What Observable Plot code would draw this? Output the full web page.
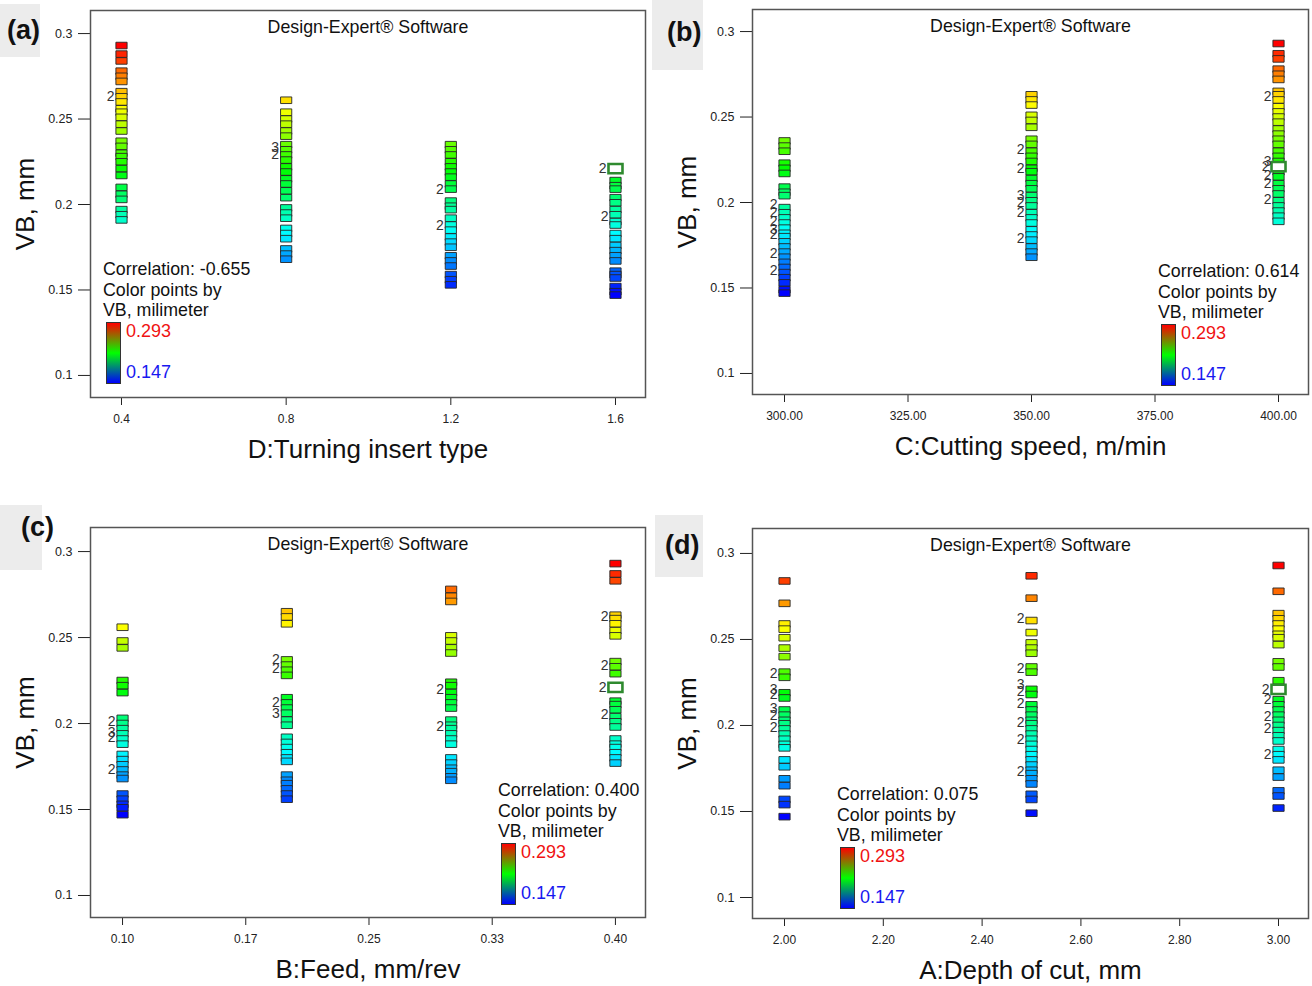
<!DOCTYPE html>
<html>
<head>
<meta charset="utf-8">
<script src="https://cdn.jsdelivr.net/npm/d3@7"></script>
<script src="https://cdn.jsdelivr.net/npm/@observablehq/plot@0.6"></script>
<style>
  body { margin: 0; background: #fff; font-family: Arial, "Liberation Sans", sans-serif; }
  #fig { position: relative; width: 1312px; height: 986px; overflow: hidden; background: #fff; }
  .panel { position: absolute; }
  .tagbox { position: absolute; background: #ececec; }
  .tag { position: absolute; font-weight: bold; font-size: 27px; color: #111; line-height: 1; transform: translateY(-50%); }
  .note { position: absolute; font-size: 17.8px; color: #111; white-space: nowrap; line-height: 1; transform: translateY(-50%); }
  .ramp { position: absolute; width: 13px; height: 60px; border: 1px solid #333;
          background: linear-gradient(to bottom, #ff0000, #00ff00, #0000ff); }
</style>
</head>
<body>
<div id="fig"></div>
<script>
// ---- Tool wear VB (mm) of each run, grouped by factor level ----

// D: turning insert type
const insertLevels = [0.4, 0.8, 1.2, 1.6];
const vbInsert04 = [0.293, 0.288, 0.284, 0.278, 0.275, 0.272, 0.266, 0.263, 0.260, 0.256, 0.254, 0.251, 0.247, 0.243, 0.237, 0.234, 0.230, 0.228, 0.225, 0.221, 0.217, 0.210, 0.206, 0.203, 0.197, 0.194, 0.191];
const vbInsert08 = [0.261, 0.254, 0.250, 0.247, 0.243, 0.240, 0.235, 0.232, 0.229, 0.226, 0.222, 0.219, 0.215, 0.212, 0.208, 0.204, 0.198, 0.195, 0.192, 0.186, 0.183, 0.180, 0.174, 0.171, 0.168];
const vbInsert12 = [0.235, 0.232, 0.229, 0.225, 0.222, 0.219, 0.216, 0.212, 0.209, 0.202, 0.199, 0.197, 0.192, 0.188, 0.185, 0.181, 0.178, 0.175, 0.170, 0.167, 0.164, 0.159, 0.156, 0.153];
const vbInsert16 = [0.214, 0.211, 0.209, 0.204, 0.201, 0.197, 0.194, 0.190, 0.188, 0.183, 0.180, 0.176, 0.173, 0.170, 0.167, 0.161, 0.159, 0.157, 0.152, 0.149, 0.147];
const repeatsInsert = [[0.4, 0.263, "2"], [0.8, 0.2335, "3"], [0.8, 0.2295, "2"], [1.2, 0.209, "2"], [1.2, 0.188, "2"], [1.6, 0.193, "2"]];
const centerInsert = [1.6, 0.221, "2"];

// C: cutting speed, m/min
const speedLevels = [300, 350, 400];
const speedTicks = [300, 325, 350, 375, 400];
const vbSpeed300 = [0.236, 0.233, 0.230, 0.223, 0.220, 0.217, 0.209, 0.206, 0.204, 0.197, 0.194, 0.191, 0.188, 0.185, 0.182, 0.180, 0.177, 0.174, 0.171, 0.168, 0.165, 0.162, 0.159, 0.156, 0.153, 0.149, 0.147];
const vbSpeed350 = [0.263, 0.260, 0.257, 0.251, 0.248, 0.244, 0.237, 0.234, 0.230, 0.227, 0.224, 0.220, 0.218, 0.214, 0.211, 0.208, 0.204, 0.201, 0.198, 0.194, 0.191, 0.188, 0.184, 0.181, 0.178, 0.174, 0.171, 0.168];
const vbSpeed400 = [0.293, 0.287, 0.284, 0.278, 0.275, 0.272, 0.265, 0.263, 0.260, 0.256, 0.253, 0.250, 0.247, 0.243, 0.240, 0.237, 0.234, 0.230, 0.227, 0.224, 0.218, 0.215, 0.211, 0.208, 0.205, 0.201, 0.198, 0.195, 0.192, 0.189];
const repeatsSpeed = [[300, 0.199, "2"], [300, 0.194, "2"], [300, 0.189, "2"], [300, 0.184, "3"], [300, 0.181, "2"], [300, 0.170, "2"], [300, 0.160, "2"],
  [350, 0.231, "2"], [350, 0.220, "2"], [350, 0.204, "3"], [350, 0.200, "2"], [350, 0.194, "2"], [350, 0.179, "2"],
  [400, 0.262, "2"], [400, 0.224, "3"], [400, 0.216, "2"], [400, 0.211, "2"], [400, 0.202, "2"]];
const centerSpeed = [400, 0.221, "2"];

// B: feed, mm/rev
const feedLevels = [0.1, 0.2, 0.3, 0.4];
const feedTicks = [0.1, 0.175, 0.25, 0.325, 0.4];
const feedTickLabels = ["0.10", "0.17", "0.25", "0.33", "0.40"];
const vbFeed010 = [0.256, 0.248, 0.244, 0.225, 0.222, 0.218, 0.203, 0.200, 0.197, 0.194, 0.191, 0.188, 0.182, 0.179, 0.176, 0.173, 0.170, 0.168, 0.159, 0.156, 0.153, 0.151, 0.147];
const vbFeed020 = [0.265, 0.262, 0.258, 0.237, 0.234, 0.231, 0.228, 0.215, 0.212, 0.209, 0.206, 0.202, 0.199, 0.192, 0.189, 0.186, 0.183, 0.180, 0.178, 0.170, 0.167, 0.165, 0.162, 0.159, 0.156];
const vbFeed030 = [0.278, 0.274, 0.271, 0.251, 0.248, 0.244, 0.241, 0.224, 0.222, 0.218, 0.215, 0.212, 0.209, 0.202, 0.199, 0.197, 0.194, 0.191, 0.188, 0.180, 0.177, 0.174, 0.172, 0.169, 0.167];
const vbFeed040 = [0.293, 0.287, 0.283, 0.263, 0.261, 0.258, 0.254, 0.251, 0.236, 0.233, 0.229, 0.213, 0.211, 0.208, 0.204, 0.201, 0.198, 0.191, 0.188, 0.186, 0.183, 0.180, 0.177];
const repeatsFeed = [[0.1, 0.201, "2"], [0.1, 0.195, "3"], [0.1, 0.192, "2"], [0.1, 0.173, "2"],
  [0.2, 0.237, "2"], [0.2, 0.232, "2"], [0.2, 0.212, "2"], [0.2, 0.206, "3"],
  [0.3, 0.220, "2"], [0.3, 0.198, "2"],
  [0.4, 0.262, "2"], [0.4, 0.234, "2"], [0.4, 0.205, "2"]];
const centerFeed = [0.4, 0.221, "2"];

// A: depth of cut, mm
const depthLevels = [2.0, 2.5, 3.0];
const depthTicks = [2.0, 2.2, 2.4, 2.6, 2.8, 3.0];
const vbDepth20 = [0.284, 0.271, 0.259, 0.256, 0.251, 0.245, 0.240, 0.231, 0.228, 0.219, 0.216, 0.209, 0.206, 0.203, 0.201, 0.198, 0.195, 0.192, 0.189, 0.187, 0.180, 0.176, 0.169, 0.165, 0.157, 0.154, 0.147];
const vbDepth25 = [0.287, 0.274, 0.261, 0.254, 0.248, 0.245, 0.242, 0.234, 0.231, 0.221, 0.218, 0.212, 0.209, 0.206, 0.203, 0.201, 0.198, 0.195, 0.192, 0.189, 0.186, 0.183, 0.180, 0.177, 0.174, 0.172, 0.169, 0.166, 0.160, 0.157, 0.149];
const vbDepth30 = [0.293, 0.278, 0.265, 0.262, 0.259, 0.256, 0.253, 0.251, 0.247, 0.237, 0.234, 0.226, 0.215, 0.212, 0.209, 0.206, 0.203, 0.200, 0.197, 0.194, 0.191, 0.186, 0.183, 0.180, 0.174, 0.170, 0.162, 0.159, 0.152];
const repeatsDepth = [[2.0, 0.230, "2"], [2.0, 0.221, "3"], [2.0, 0.218, "2"], [2.0, 0.210, "3"], [2.0, 0.206, "2"], [2.0, 0.199, "2"],
  [2.5, 0.262, "2"], [2.5, 0.233, "2"], [2.5, 0.224, "3"], [2.5, 0.220, "2"], [2.5, 0.213, "2"], [2.5, 0.202, "2"], [2.5, 0.192, "2"], [2.5, 0.173, "2"],
  [3.0, 0.215, "2"], [3.0, 0.205, "2"], [3.0, 0.198, "2"], [3.0, 0.183, "2"]];
const centerDepth = [3.0, 0.221, "2"];

// VB axis and colour range
const vbTicks = [0.1, 0.15, 0.2, 0.25, 0.3];
const vbMin = 0.147, vbMax = 0.293;
const correlations = ["-0.655", "0.614", "0.400", "0.075"];

// ---- drawing ----
const FONT = 'Arial, "Liberation Sans", sans-serif';
const vbColors = d3.piecewise(d3.interpolateRgb, ["#0000ff", "#00ffff", "#00ff00", "#ffff00", "#ff0000"]);
const runBox = { draw(ctx) { ctx.rect(-5.6, -3.3, 11.2, 6.6); } };
const centerBox = { draw(ctx) { ctx.rect(-7, -4.6, 14, 9.2); } };
const fmt2 = d3.format(".2f");

const panels = [
  { tag: "(a)", left: 0, top: 0, m: [10, 11, 96, 90], xDomain: [0.3247, 1.6729], yDomain: [0.0871, 0.3135],
    levels: insertLevels, series: [vbInsert04, vbInsert08, vbInsert12, vbInsert16],
    xTicks: insertLevels, xFormat: d3.format("~g"), xLabel: "D:Turning insert type",
    repeats: repeatsInsert, center: centerInsert, corr: correlations[0], note: [103, 270] },
  { tag: "(b)", left: 656, top: 0, m: [9, 4, 99, 96], xDomain: [293.52, 406.07], yDomain: [0.0877, 0.3129],
    levels: speedLevels, series: [vbSpeed300, vbSpeed350, vbSpeed400],
    xTicks: speedTicks, xFormat: fmt2, xLabel: "C:Cutting speed, m/min",
    repeats: repeatsSpeed, center: centerSpeed, corr: correlations[1], note: [1158, 272] },
  { tag: "(c)", left: 0, top: 493, m: [34, 11, 69, 90], xDomain: [0.0805, 0.4183], yDomain: [0.0872, 0.314],
    levels: feedLevels, series: [vbFeed010, vbFeed020, vbFeed030, vbFeed040],
    xTicks: feedTicks, xFormat: d => feedTickLabels[feedTicks.indexOf(d)], xLabel: "B:Feed, mm/rev",
    repeats: repeatsFeed, center: centerFeed, corr: correlations[2], note: [498, 791] },
  { tag: "(d)", left: 656, top: 493, m: [35, 4, 68, 96], xDomain: [1.9352, 3.0607], yDomain: [0.0878, 0.3145],
    levels: depthLevels, series: [vbDepth20, vbDepth25, vbDepth30],
    xTicks: depthTicks, xFormat: fmt2, xLabel: "A:Depth of cut, mm",
    repeats: repeatsDepth, center: centerDepth, corr: correlations[3], note: [837, 795] }
];

const fig = document.getElementById("fig");

for (const p of panels) {
  const runs = p.levels.flatMap((x, i) => p.series[i].map(vb => ({ x, vb })));
  const reps = p.repeats.map(([x, vb, n]) => ({ x, vb, n }));
  const center = [{ x: p.center[0], vb: p.center[1], n: p.center[2] }];

  const svg = Plot.plot({
    width: 656, height: 493,
    marginTop: p.m[0], marginRight: p.m[1], marginBottom: p.m[2], marginLeft: p.m[3],
    x: { domain: p.xDomain },
    y: { domain: p.yDomain },
    color: { type: "linear", domain: [vbMin, vbMax], interpolate: vbColors },
    style: { fontFamily: FONT, color: "#222", background: "transparent", overflow: "visible" },
    marks: [
      Plot.axisY({ ticks: vbTicks, tickFormat: d3.format("~g"), tickSize: 12, tickPadding: 6, fontSize: 12.5, label: null }),
      Plot.axisX({ ticks: p.xTicks, tickFormat: p.xFormat, tickSize: 8, tickPadding: 9, fontSize: 12, label: null }),
      Plot.frame({ stroke: "#555", strokeWidth: 1.5 }),
      Plot.dot(runs, { x: "x", y: "vb", fill: "vb", symbol: runBox, stroke: "#262626", strokeWidth: 0.9 }),
      Plot.dot(center, { x: "x", y: "vb", symbol: centerBox, fill: "white", stroke: "#2f8a2f", strokeWidth: 2.6 }),
      Plot.text(reps, { x: "x", y: "vb", text: "n", textAnchor: "end", dx: -7, fontSize: 14, fill: "#333" }),
      Plot.text(center, { x: "x", y: "vb", text: "n", textAnchor: "end", dx: -9, fontSize: 14, fill: "#333" }),
      Plot.text(["Design-Expert® Software"], { frameAnchor: "top", lineAnchor: "middle", dy: 17, fontSize: 17.8, fill: "#111" }),
      Plot.text([p.xLabel], { frameAnchor: "bottom", lineAnchor: "middle", textAnchor: "middle", dy: 52, fontSize: 26, fill: "#111" }),
      Plot.text(["VB, mm"], { frameAnchor: "left", textAnchor: "middle", lineAnchor: "middle", rotate: -90, dx: -65, fontSize: 26, fill: "#111" })
    ]
  });

  const holder = document.createElement("div");
  holder.className = "panel";
  holder.style.left = p.left + "px";
  holder.style.top = p.top + "px";
  holder.appendChild(svg);
  fig.appendChild(holder);

  // correlation note with colour ramp
  const [nx, ny] = p.note;
  const lines = ["Correlation: " + p.corr, "Color points by", "VB, milimeter"];
  lines.forEach((t, i) => {
    const d = document.createElement("div");
    d.className = "note";
    d.textContent = t;
    d.style.left = nx + "px";
    d.style.top = (ny + i * 20.5) + "px";
    fig.appendChild(d);
  });
  const ramp = document.createElement("div");
  ramp.className = "ramp";
  ramp.style.left = (nx + 3) + "px";
  ramp.style.top = (ny + 52) + "px";
  fig.appendChild(ramp);
  [[d3.format(".3f")(vbMax), "#f01212", 61], [d3.format(".3f")(vbMin), "#1818f0", 102]].forEach(([t, c, off]) => {
    const d = document.createElement("div");
    d.className = "note";
    d.textContent = t;
    d.style.fontSize = "18px";
    d.style.color = c;
    d.style.left = (nx + 23) + "px";
    d.style.top = (ny + off) + "px";
    fig.appendChild(d);
  });
}

// panel tags
const tagBoxes = [[0, 4, 40, 53], [652, 0, 51, 70], [0, 505, 42, 65], [655, 515, 48, 62]];
const tagText = [["(a)", 7, 30], ["(b)", 667, 32], ["(c)", 21, 527], ["(d)", 665, 545]];
tagBoxes.forEach(([x, y, w, h]) => {
  const b = document.createElement("div");
  b.className = "tagbox";
  Object.assign(b.style, { left: x + "px", top: y + "px", width: w + "px", height: h + "px" });
  fig.appendChild(b);
});
tagText.forEach(([t, x, y]) => {
  const d = document.createElement("div");
  d.className = "tag";
  d.textContent = t;
  d.style.left = x + "px";
  d.style.top = y + "px";
  fig.appendChild(d);
});
</script>
</body>
</html>
